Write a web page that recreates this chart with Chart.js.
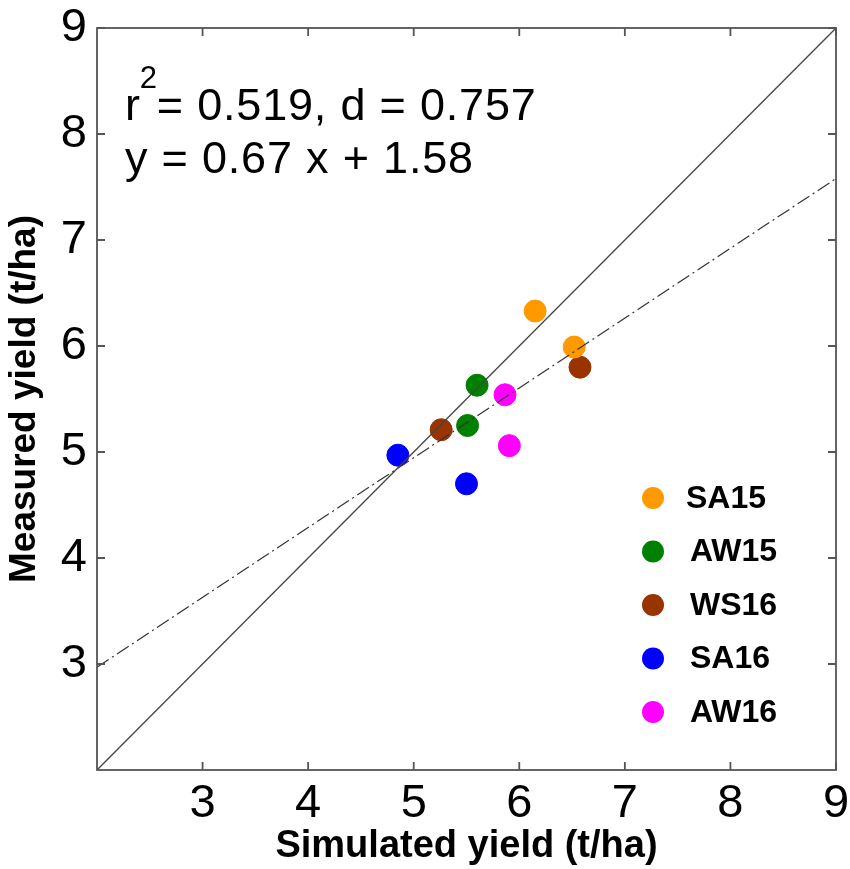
<!DOCTYPE html>
<html>
<head>
<meta charset="utf-8">
<script src="https://cdn.jsdelivr.net/npm/chart.js@4"></script>
<style>
  html, body { margin: 0; padding: 0; background: #fff; }
  #wrap { width: 850px; height: 869px; }
</style>
</head>
<body>
<div id="wrap"><canvas id="yield-chart" width="850" height="869"></canvas></div>
<script>
// seasons and their simulated / measured yields (t/ha)
const seasons = ['SA15', 'AW15', 'WS16', 'SA16', 'AW16'];
const seasonColors = ['#ff9900', '#008000', '#993300', '#0000ff', '#ff00ff'];
const simulated = [
    [6.15, 6.52],
    [5.60, 5.51],
    [5.26, 6.575],
    [4.85, 5.50],
    [5.865, 5.906]
];
const measured = [
    [6.33, 5.99],
    [5.63, 5.25],
    [5.21, 5.80],
    [4.97, 4.70],
    [5.54, 5.06]
];

// 1:1 line and fitted line ends
const lineX = [2, 9];
const oneToOneY = [2, 9];
const fitY = [2.97, 7.58];

const axisMin = 2;
const axisMax = 9;
const tickValues = [3, 4, 5, 6, 7, 8, 9];

const statsLine1 = ['r', '2', '= 0.519, d = 0.757'];
const statsLine2 = 'y = 0.67 x + 1.58';

const FONT = '"Liberation Sans", Arial, sans-serif';

const datasets = [];
datasets.push({
    type: 'line',
    label: '1:1',
    data: lineX.map((x, i) => ({x: x, y: oneToOneY[i]})),
    borderColor: '#444',
    borderWidth: 1.3,
    pointRadius: 0,
    fill: false
});
datasets.push({
    type: 'line',
    label: 'fit',
    data: lineX.map((x, i) => ({x: x, y: fitY[i]})),
    borderColor: '#333',
    borderWidth: 1.2,
    borderDash: [14, 4, 2, 4],
    pointRadius: 0,
    fill: false
});
seasons.forEach((name, i) => {
    datasets.push({
        type: 'scatter',
        label: name,
        data: simulated[i].map((x, j) => ({x: x, y: measured[i][j]})),
        backgroundColor: seasonColors[i],
        borderColor: seasonColors[i],
        pointRadius: 11,
        pointHoverRadius: 11
    });
});

// box with inward ticks, stats text and legend
const decorPlugin = {
    id: 'decor',
    afterDraw(chart) {
        const c = chart.ctx;
        const a = chart.chartArea;
        const xs = chart.scales.x;
        const ys = chart.scales.y;
        c.save();
        c.strokeStyle = '#555';
        c.lineWidth = 1.8;
        c.strokeRect(a.left, a.top, a.right - a.left, a.bottom - a.top);
        const tl = 8;
        c.beginPath();
        tickValues.forEach(v => {
            const px = xs.getPixelForValue(v);
            c.moveTo(px, a.bottom); c.lineTo(px, a.bottom - tl);
            c.moveTo(px, a.top); c.lineTo(px, a.top + tl);
            const py = ys.getPixelForValue(v);
            c.moveTo(a.left, py); c.lineTo(a.left + tl, py);
            c.moveTo(a.right, py); c.lineTo(a.right - tl, py);
        });
        c.stroke();

        // stats text
        c.fillStyle = '#000';
        c.textBaseline = 'alphabetic';
        c.textAlign = 'left';
        c.letterSpacing = '0.8px';
        c.font = '45px ' + FONT;
        let x = 125;
        c.fillText(statsLine1[0], x, 120);
        x += c.measureText(statsLine1[0]).width - 1;
        c.font = '31px ' + FONT;
        c.fillText(statsLine1[1], x, 88);
        x += c.measureText(statsLine1[1]).width - 1;
        c.font = '45px ' + FONT;
        c.fillText(statsLine1[2], x, 120);
        c.fillText(statsLine2, 125, 173);
        c.letterSpacing = '0px';

        // legend
        const legendX = 653;
        const legendTop = 498;
        const legendStep = 53.5;
        c.font = 'bold 32px ' + FONT;
        c.textBaseline = 'middle';
        chart.data.datasets.filter(d => d.type === 'scatter').forEach((d, i) => {
            const ly = legendTop + i * legendStep;
            c.beginPath();
            c.fillStyle = d.backgroundColor;
            c.arc(legendX, ly, 11, 0, Math.PI * 2);
            c.fill();
            c.fillStyle = '#000';
            c.fillText(d.label, legendX + (i === 0 ? 33 : 37), ly + 1);
        });
        c.restore();
    }
};

const ctx = document.getElementById('yield-chart').getContext('2d');
const chart = new Chart(ctx, {
    data: {datasets: datasets},
    options: {
        responsive: false,
        animation: false,
        layout: {padding: {top: 28, right: 14, left: 0, bottom: 0}},
        plugins: {
            legend: {display: false},
            tooltip: {enabled: false}
        },
        scales: {
            x: {
                type: 'linear',
                min: axisMin,
                max: axisMax,
                afterBuildTicks: s => { s.ticks = [axisMin].concat(tickValues).map(v => ({value: v})); },
                afterFit: s => {
                    s.height = 99;
                    s.paddingLeft = 0;
                    s.paddingRight = 0;
                },
                grid: {display: false, drawTicks: false},
                border: {display: false},
                ticks: {
                    padding: 6,
                    color: '#000',
                    font: {family: FONT, size: 47},
                    callback: v => (v === axisMin ? '' : v)
                },
                title: {
                    display: true,
                    text: 'Simulated yield (t/ha)',
                    color: '#000',
                    font: {family: FONT, size: 38, weight: 'bold'},
                    padding: 0
                }
            },
            y: {
                type: 'linear',
                min: axisMin,
                max: axisMax,
                afterBuildTicks: s => { s.ticks = [axisMin].concat(tickValues).map(v => ({value: v})); },
                afterFit: s => {
                    s.width = 97;
                    s.paddingTop = 0;
                    s.paddingBottom = 0;
                },
                grid: {display: false, drawTicks: false},
                border: {display: false},
                ticks: {
                    padding: 10,
                    color: '#000',
                    font: {family: FONT, size: 47},
                    callback: v => (v === axisMin ? '' : v)
                },
                title: {
                    display: true,
                    text: 'Measured yield (t/ha)',
                    color: '#000',
                    font: {family: FONT, size: 37, weight: 'bold'},
                    padding: {top: 3, bottom: 0}
                }
            }
        }
    },
    plugins: [decorPlugin]
});
</script>
</body>
</html>
